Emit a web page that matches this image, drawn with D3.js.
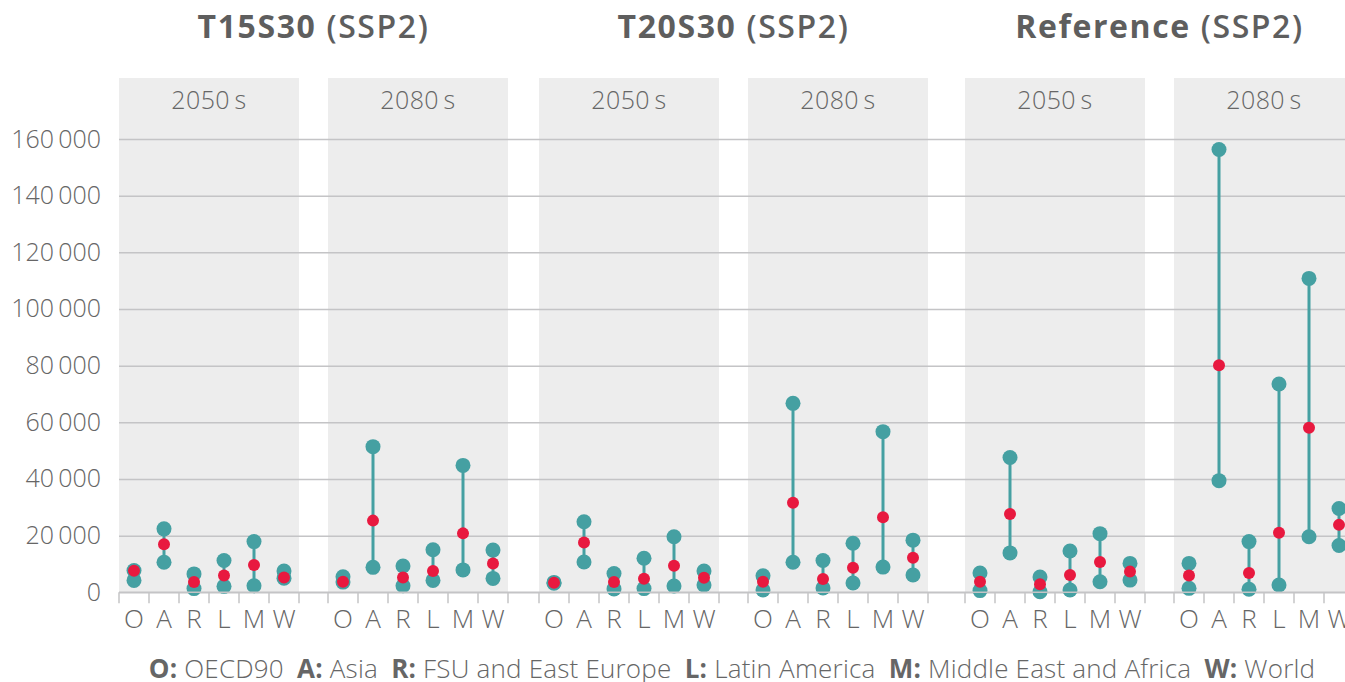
<!DOCTYPE html>
<html>
<head>
<meta charset="utf-8">
<script src="https://d3js.org/d3.v7.min.js"></script>
<style>
  body { margin: 0; background: #fff; }
  svg text { font-family: "Open Sans", Lato, sans-serif; fill: #666; }
</style>
</head>
<body>
<script>
// --- data ---
var regions = ["O", "A", "R", "L", "M", "W"];
var scenarios = ["T15S30", "T20S30", "Reference"];
var periods = ["2050s", "2080s"];
var yTicks = [0, 20000, 40000, 60000, 80000, 100000, 120000, 140000, 160000];
var legendItems = [["O:", "OECD90"], ["A:", "Asia"], ["R:", "FSU and East Europe"],
                   ["L:", "Latin America"], ["M:", "Middle East and Africa"], ["W:", "World"]];

// one row per panel: T15S30 2050s, T15S30 2080s, T20S30 2050s, T20S30 2080s, Ref 2050s, Ref 2080s
var lowVals = [
  [4200, 10600, 1300, 2100, 2300, 5000],
  [3600, 8800, 2300, 4200, 7900, 4900],
  [3200, 10700, 1200, 1300, 2200, 2600],
  [800, 10600, 1500, 3300, 8900, 6100],
  [600, 13900, 200, 800, 3700, 4300],
  [1400, 39400, 1100, 2600, 19600, 16500]
];
var midVals = [
  [7600, 17000, 3600, 5900, 9600, 5200],
  [3700, 25300, 5200, 7500, 20800, 10200],
  [3400, 17600, 3600, 4800, 9400, 5100],
  [3700, 31600, 4700, 8700, 26500, 12200],
  [3700, 27600, 2800, 6100, 10700, 7300],
  [5900, 80100, 6800, 21000, 58100, 23800]
];
var highVals = [
  [7700, 22400, 6500, 11200, 17900, 7500],
  [5500, 51400, 9300, 15000, 44800, 14900],
  [3500, 24900, 6600, 12000, 19600, 7500],
  [5800, 66700, 11200, 17300, 56700, 18400],
  [6800, 47600, 5400, 14600, 20700, 10200],
  [10200, 156300, 17900, 73500, 110800, 29600]
];

// --- layout ---
var width = 1345, height = 682;
var groupX = [119, 539, 965];
var panelOffset = [0, 209];
var panelW = 180;
var panelTop = 78;

var teal = "#45a0a2", red = "#e8193f";

var svg = d3.select("body").append("svg")
    .attr("width", width)
    .attr("height", height);

var y = d3.scaleLinear().domain([0, 160000]).range([592.3, 139]);
var xBand = d3.scaleBand().domain(regions).range([0, panelW]);

var locale = d3.formatLocale({decimal: ".", thousands: "\u2009", grouping: [3], currency: ["", ""]});
var fmt = locale.format(",");

// panels list
var panels = [];
scenarios.forEach(function(s, si) {
  periods.forEach(function(p, pi) {
    var k = si * 2 + pi;
    panels.push({
      scenario: s, period: p,
      x0: groupX[si] + panelOffset[pi],
      rows: regions.map(function(r, ri) {
        return {region: r, low: lowVals[k][ri], mid: midVals[k][ri], high: highVals[k][ri]};
      })
    });
  });
});

// gray panel backgrounds
svg.selectAll("rect.panel")
  .data(panels)
  .enter().append("rect")
    .attr("class", "panel")
    .attr("x", function(d) { return d.x0; })
    .attr("y", panelTop)
    .attr("width", panelW)
    .attr("height", y(0) - panelTop)
    .attr("fill", "#ededed");

// gridlines + y labels
var yAxis = d3.axisLeft(y)
    .tickValues(yTicks)
    .tickSize(-(width - groupX[0]))
    .tickFormat(fmt);

var gy = svg.append("g")
    .attr("transform", "translate(" + groupX[0] + ",0)")
    .call(yAxis);
gy.select(".domain").remove();
gy.selectAll(".tick line")
    .attr("stroke", "#c4c4c6")
    .attr("stroke-width", 1.5);
gy.selectAll(".tick text")
    .attr("x", -18)
    .attr("font-size", 25)
    .attr("font-weight", 300)
    .attr("fill", "#666");

// x axis per panel (ticks at band edges)
panels.forEach(function(p) {
  var g = svg.append("g").attr("transform", "translate(" + p.x0 + "," + y(0) + ")");
  g.selectAll("line.tk")
    .data(d3.range(regions.length + 1))
    .enter().append("line")
      .attr("x1", function(i) { return i * xBand.step(); })
      .attr("x2", function(i) { return i * xBand.step(); })
      .attr("y1", 0)
      .attr("y2", 11)
      .attr("stroke", "#c4c4c6")
      .attr("stroke-width", 1.5);
  g.selectAll("text")
    .data(regions)
    .enter().append("text")
      .attr("x", function(r) { return xBand(r) + xBand.bandwidth() / 2; })
      .attr("y", 29)
      .attr("text-anchor", "middle")
      .attr("dominant-baseline", "middle")
      .attr("font-size", 26)
      .attr("font-weight", 300)
      .text(function(r) { return r; });

  // period label
  svg.append("text")
    .attr("x", p.x0 + panelW / 2)
    .attr("y", 102)
    .attr("text-anchor", "middle")
    .attr("dominant-baseline", "middle")
    .attr("font-size", 25)
    .attr("font-weight", 300)
    .attr("letter-spacing", 0.4)
    .text(p.period.replace("s", "\u2009s"));

  // range lines and dots
  var cx = function(d) { return p.x0 + xBand(d.region) + xBand.bandwidth() / 2; };
  var mg = svg.append("g");
  mg.selectAll("line.rng")
    .data(p.rows)
    .enter().append("line")
      .attr("x1", cx).attr("x2", cx)
      .attr("y1", function(d) { return y(d.low); })
      .attr("y2", function(d) { return y(d.high); })
      .attr("stroke", teal)
      .attr("stroke-width", 3);
  mg.selectAll("circle.lo")
    .data(p.rows)
    .enter().append("circle")
      .attr("cx", cx)
      .attr("cy", function(d) { return y(d.low); })
      .attr("r", 7.5)
      .attr("fill", teal);
  mg.selectAll("circle.hi")
    .data(p.rows)
    .enter().append("circle")
      .attr("cx", cx)
      .attr("cy", function(d) { return y(d.high); })
      .attr("r", 7.5)
      .attr("fill", teal);
  mg.selectAll("circle.mid")
    .data(p.rows)
    .enter().append("circle")
      .attr("cx", cx)
      .attr("cy", function(d) { return y(d.mid); })
      .attr("r", 6)
      .attr("fill", red);
});

// baseline
svg.append("line")
  .attr("x1", groupX[0]).attr("x2", width)
  .attr("y1", y(0)).attr("y2", y(0))
  .attr("stroke", "#c4c4c6")
  .attr("stroke-width", 1.5);

// scenario titles
scenarios.forEach(function(s, si) {
  var t = svg.append("text")
    .attr("x", groupX[si] + (panelOffset[1] + panelW) / 2)
    .attr("y", 29)
    .attr("text-anchor", "middle")
    .attr("dominant-baseline", "middle")
    .attr("font-size", 32)
    .attr("letter-spacing", 1.6)
    .attr("fill", "#5e5e5e");
  t.append("tspan").attr("font-weight", 700).attr("fill", "#5e5e5e").text(s);
  t.append("tspan").attr("font-weight", 600).attr("fill", "#5e5e5e").text(" (SSP2)");
});

// legend
var lg = svg.append("text")
  .attr("x", 732)
  .attr("y", 671)
  .attr("text-anchor", "middle")
  .attr("dominant-baseline", "middle")
  .attr("font-size", 26)
  .attr("letter-spacing", 0.2);
legendItems.forEach(function(it, i) {
  lg.append("tspan").attr("font-weight", 700).text((i > 0 ? "\u2002" : "") + it[0]);
  lg.append("tspan").attr("font-weight", 300).text(" " + it[1]);
});
</script>
</body>
</html>
